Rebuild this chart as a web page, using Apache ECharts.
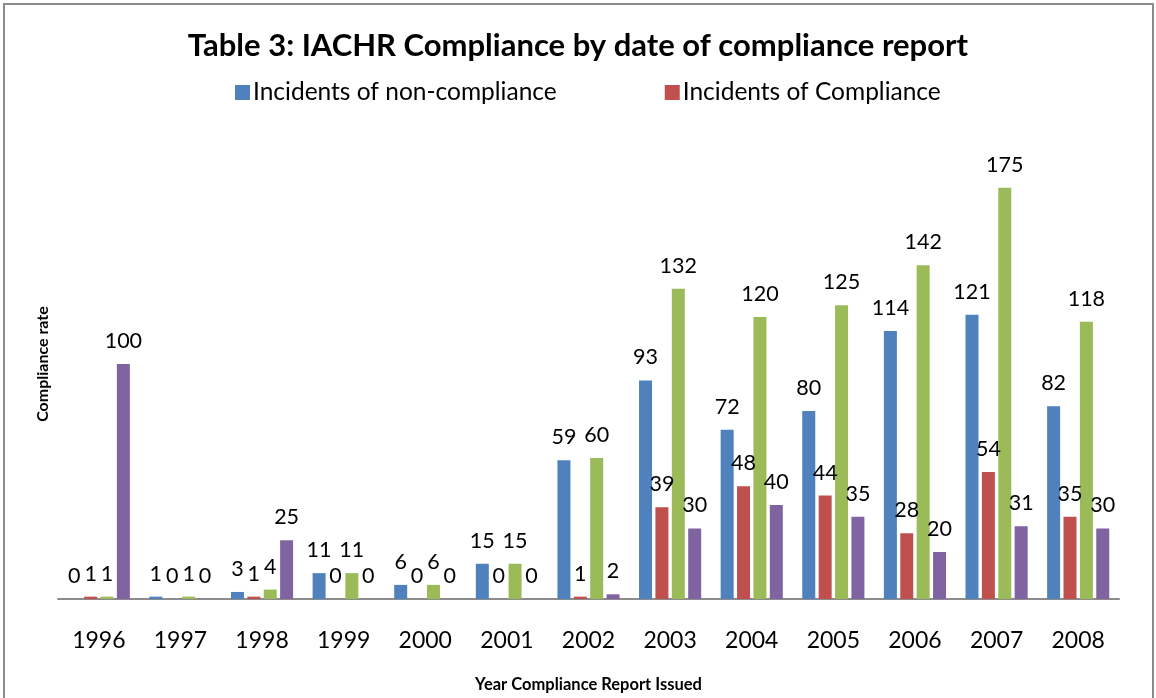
<!DOCTYPE html>
<html>
<head>
<meta charset="utf-8">
<script src="https://cdn.jsdelivr.net/npm/echarts@6/dist/echarts.min.js"></script>
<style>
  html, body { margin: 0; padding: 0; background: #fff; }
  #main { width: 1156px; height: 698px; }
</style>
</head>
<body>
<div id="main"></div>
<script>
// chart data
const years = ['1996', '1997', '1998', '1999', '2000', '2001', '2002', '2003', '2004', '2005', '2006', '2007', '2008']
const nonCompliance = [0, 1, 3, 11, 6, 15, 59, 93, 72, 80, 114, 121, 82]
const compliance = [1, 0, 1, 0, 0, 0, 1, 39, 48, 44, 28, 54, 35]
const totals = [1, 1, 4, 11, 6, 15, 60, 132, 120, 125, 142, 175, 118]
const rates = [100, 0, 25, 0, 0, 0, 2, 30, 40, 35, 20, 31, 30]

const FONT = 'Lato, "Open Sans", sans-serif'
const chart = echarts.init(document.getElementById('main'))

const labelStyle = {
  show: true,
  position: 'top',
  distance: 12,
  color: '#000',
  fontFamily: FONT,
  fontSize: 21.5,
}

function barSeries(name, color, data) {
  return {
    name: name,
    type: 'bar',
    barWidth: 13,
    barGap: '26%',
    itemStyle: { color: color },
    label: labelStyle,
    data: data,
  }
}

const option = {
  animation: false,
  backgroundColor: '#fff',
  title: {
    text: 'Table 3: IACHR Compliance by date of compliance report',
    left: 'center',
    top: 25,
    textStyle: { fontFamily: FONT, fontSize: 31, fontWeight: 'bold', color: '#000' },
  },
  legend: {
    data: ['Incidents of non-compliance', 'Incidents of Compliance'],
    top: 75,
    left: 230,
    itemWidth: 15,
    itemHeight: 15,
    itemGap: 108,
    icon: 'rect',
    textStyle: { fontFamily: FONT, fontSize: 24.5, color: '#000', padding: [0, 0, 0, -2] },
  },
  grid: { left: 58, right: 37, top: 129, bottom: 93 },
  xAxis: {
    type: 'category',
    data: years,
    name: 'Year Compliance Report Issued',
    nameLocation: 'middle',
    nameGap: 77,
    nameTextStyle: { fontFamily: FONT, fontSize: 16.5, fontWeight: 'bold', color: '#000' },
    axisLine: { lineStyle: { color: '#8c8c8c', width: 2 } },
    axisTick: { show: false },
    axisLabel: { fontFamily: FONT, fontSize: 23, color: '#000', margin: 30 },
  },
  yAxis: {
    type: 'value',
    min: 0,
    max: 200,
    name: 'Compliance rate',
    nameLocation: 'middle',
    nameGap: 7,
    nameTextStyle: { fontFamily: FONT, fontSize: 16, fontWeight: 'bold', color: '#000' },
    axisLine: { show: false },
    axisTick: { show: false },
    axisLabel: { show: false },
    splitLine: { show: false },
  },
  graphic: [
    {
      type: 'rect',
      shape: { x: 4, y: 4, width: 1149, height: 700 },
      style: { fill: 'none', stroke: '#8c8c8c', lineWidth: 2 },
    },
  ],
  series: [
    barSeries('Incidents of non-compliance', '#4F81BD', nonCompliance),
    barSeries('Incidents of Compliance', '#C0504D', compliance),
    barSeries('Total incidents', '#9BBB59', totals),
    barSeries('Compliance rate', '#8064A2', rates),
  ],
}

chart.setOption(option)
</script>
</body>
</html>
